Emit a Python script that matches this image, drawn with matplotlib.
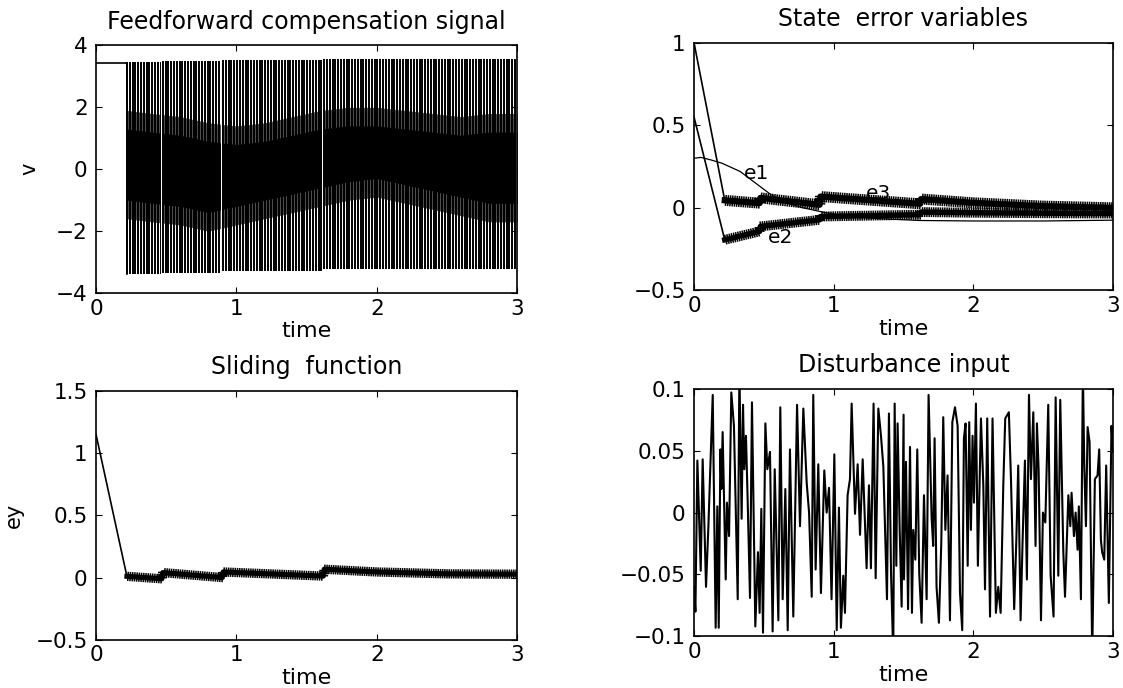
import numpy as np
import matplotlib
matplotlib.use('Agg')
from matplotlib import pyplot as plt
from matplotlib import patheffects as pe

plt.rcParams['font.family'] = ['DejaVu Sans']
plt.rcParams['font.size'] = 15

# ---- feedforward compensation signal (chattering between two levels)
ff_init_t = [0.0, 0.22]
ff_init_v = [3.42, 3.42]
ff_seg_t0 = [0.22, 0.475, 0.905, 1.625]
ff_seg_t1 = [0.47, 0.90, 1.62, 3.0]
ff_hi = [3.48, 3.50, 3.53, 3.57]
ff_lo = [-3.38, -3.36, -3.30, -3.22]
ff_dt = 0.02
ff_band_t = [0.22, 0.4, 0.6, 0.8, 1.0, 1.2, 1.4, 1.6, 1.8, 2.0, 2.2, 2.4, 2.6, 2.8, 3.0]
ff_band_top = [1.3, 1.2, 1.1, 0.9, 0.8, 0.9, 1.1, 1.3, 1.4, 1.4, 1.3, 1.2, 1.1, 1.2, 1.2]
ff_band_bot = [-1.0, -1.1, -1.2, -1.4, -1.2, -1.0, -0.8, -0.6, -0.4, -0.3, -0.5, -0.7, -0.9, -1.1, -1.1]
ff_halo_top = [1.9, 1.8, 1.7, 1.5, 1.4, 1.5, 1.7, 1.9, 2.0, 2.0, 1.9, 1.8, 1.7, 1.8, 1.8]
ff_halo_bot = [-1.6, -1.7, -1.8, -2.0, -1.8, -1.6, -1.4, -1.2, -1.0, -0.9, -1.1, -1.3, -1.5, -1.7, -1.7]

# ---- state error variables
e1_t = [0, 0.05, 0.12, 0.2, 0.33, 0.44, 0.55, 0.66, 0.78, 0.9, 1.02, 1.14, 1.38, 1.62, 2.0, 2.5, 3.0]
e1_v = [0.30, 0.305, 0.29, 0.27, 0.22, 0.15, 0.08, 0.03, 0.0, -0.022, -0.042, -0.057, -0.068, -0.077, -0.08, -0.08, -0.075]
e3_t = [0, 0.22, 0.47, 0.475, 0.90, 0.905, 1.62, 1.625, 2.0, 2.5, 3.0]
e3_v = [1.0, 0.045, 0.028, 0.06, 0.018, 0.068, 0.024, 0.053, 0.03, 0.01, 0.0]
e2_t = [0, 0.22, 0.47, 0.475, 0.90, 0.905, 1.62, 1.625, 2.0, 2.5, 3.0]
e2_v = [0.55, -0.194, -0.143, -0.113, -0.073, -0.053, -0.042, -0.026, -0.03, -0.033, -0.035]

# ---- sliding function
s_t = [0, 0.22, 0.47, 0.475, 0.90, 0.905, 1.62, 1.625, 2.0, 2.5, 3.0]
s_v = [1.15, 0.01, -0.01, 0.04, 0.0, 0.045, 0.012, 0.067, 0.045, 0.03, 0.027]

# ---- disturbance input (peaks/valleys)
d_t = [0.0, 0.01, 0.024, 0.048, 0.062, 0.086, 0.103, 0.134, 0.155, 0.167, 0.177, 0.189, 0.196, 0.205,
       0.227, 0.236, 0.251, 0.267, 0.286, 0.313, 0.325, 0.341, 0.351, 0.36, 0.372, 0.384, 0.401,
       0.415, 0.439, 0.458, 0.47, 0.482, 0.494, 0.511, 0.525, 0.544, 0.563, 0.578, 0.604, 0.618,
       0.635, 0.654, 0.671, 0.687, 0.711, 0.738, 0.759, 0.783, 0.807, 0.824, 0.843, 0.854, 0.871,
       0.89, 0.909, 0.933, 0.95, 0.967, 0.985, 1.005, 1.022, 1.038, 1.052, 1.069, 1.081, 1.1, 1.117,
       1.129, 1.153, 1.172, 1.189, 1.208, 1.236, 1.253, 1.267, 1.286, 1.301, 1.32, 1.339, 1.356,
       1.368, 1.382, 1.396, 1.411, 1.427, 1.437, 1.449, 1.458, 1.473, 1.487, 1.501, 1.504, 1.518,
       1.533, 1.547, 1.561, 1.57, 1.585, 1.599, 1.613, 1.63, 1.647, 1.666, 1.68, 1.702, 1.713, 1.723,
       1.737, 1.754, 1.771, 1.785, 1.8, 1.816, 1.833, 1.85, 1.869, 1.888, 1.905, 1.921, 1.933, 1.945,
       1.96, 1.971, 1.983, 1.995, 2.005, 2.019, 2.033, 2.055, 2.072, 2.084, 2.1, 2.12, 2.138, 2.162,
       2.179, 2.196, 2.215, 2.229, 2.255, 2.27, 2.293, 2.308, 2.322, 2.339, 2.353, 2.37, 2.384, 2.399,
       2.413, 2.43, 2.446, 2.456, 2.468, 2.485, 2.499, 2.516, 2.537, 2.554, 2.575, 2.59, 2.609, 2.623,
       2.645, 2.657, 2.681, 2.695, 2.704, 2.721, 2.733, 2.747, 2.756, 2.771, 2.785, 2.795, 2.807,
       2.819, 2.833, 2.852, 2.871, 2.89, 2.902, 2.914, 2.923, 2.938, 2.952, 2.971, 2.99, 3.0]
d_v = [-0.06, -0.08, 0.042, -0.047, 0.043, -0.06, -0.011, 0.095, -0.093, 0.005, -0.093, 0.051, 0.019, 0.065,
       -0.054, 0.008, -0.019, 0.097, 0.07, -0.07, 0.115, -0.005, 0.087, 0.035, 0.062, 0.011, -0.069,
       0.089, -0.092, -0.032, -0.081, 0.003, -0.097, 0.072, 0.035, 0.049, -0.096, 0.035, -0.087, 0.085,
       -0.07, 0.019, -0.095, 0.051, -0.084, 0.087, -0.011, 0.084, 0.024, 0.0, -0.068, 0.095, -0.046,
       0.039, -0.065, 0.034, 0.0, 0.02, -0.07, 0.047, -0.095, 0.004, -0.093, -0.051, -0.081, 0.014, 0.027,
       0.088, -0.001, 0.039, -0.018, 0.043, -0.045, 0.022, -0.045, 0.088, -0.053, 0.084, 0.062, 0.037,
       -0.011, -0.07, 0.08, -0.049, -0.115, 0.088, -0.043, 0.072, -0.014, -0.076, 0.079, -0.054, 0.041,
       -0.078, 0.053, -0.081, -0.014, -0.038, 0.051, -0.049, -0.089, 0.014, -0.07, 0.095, -0.005, -0.027, 0.06,
       -0.06, -0.089, -0.024, 0.077, -0.014, 0.03, -0.087, 0.073, 0.085, 0.07, -0.065, -0.095, 0.06, 0.072,
       -0.043, 0.073, -0.014, 0.062, 0.008, 0.088, -0.043, 0.076, 0.022, -0.062, 0.076, -0.084, 0.076, -0.081,
       -0.06, -0.081, 0.022, 0.076, 0.081, 0.027, -0.078, -0.024, 0.038, -0.087, -0.024, 0.042, -0.054, 0.095,
       0.027, 0.081, -0.027, 0.072, 0.035, -0.087, 0.0, -0.008, 0.087, -0.051, -0.084, 0.093, -0.051, 0.091,
       -0.032, -0.068, 0.014, -0.011, 0.016, -0.019, 0.0, -0.03, 0.005, -0.07, 0.115, 0.038, -0.011,
       0.069, 0.057, -0.115, 0.027, 0.03, 0.051, -0.022, -0.032, -0.038, 0.038, -0.073, 0.07, 0.049]


def style(ax, title, ylabel=None, ylabelpad=4):
    ax.set_title(title, pad=12, fontsize=17)
    ax.set_xlabel('time', labelpad=2, fontsize=16)
    if ylabel:
        ax.set_ylabel(ylabel, labelpad=ylabelpad, fontsize=15)
    ax.set_xlim(0, 3)
    ax.set_xticks([0, 1, 2, 3])
    ax.tick_params(direction='in', top=True, right=True, length=4, width=0.8,
                   pad=6, labelsize=15.5)
    ax.tick_params(axis='x', pad=4)
    for sp in ax.spines.values():
        sp.set_linewidth(1.2)


def comb(half):
    sp = 1.6
    return [pe.Stroke(linewidth=half * 1.3, foreground='k'),
            pe.TickedStroke(spacing=sp, angle=90, length=half / sp, linewidth=1.1),
            pe.TickedStroke(spacing=sp, angle=-90, length=half / sp, linewidth=1.1),
            pe.Normal()]


fig = plt.figure(figsize=(11.23, 6.88), dpi=100)

# top left
ax1 = fig.add_axes([0.0855, 0.574, 0.375, 0.360])
ax1.plot(ff_init_t, ff_init_v, 'k', lw=1.2)
ax1.plot([ff_init_t[-1], ff_init_t[-1]], [ff_init_v[-1], ff_lo[0]], 'k', lw=1.2)
ax1.fill_between(ff_band_t, ff_halo_bot, ff_halo_top, color='0.3', lw=0)
ax1.fill_between(ff_band_t, ff_band_bot, ff_band_top, color='k', lw=0)
for t0, t1, hi, lo in zip(ff_seg_t0, ff_seg_t1, ff_hi, ff_lo):
    ts = np.arange(t0, t1, ff_dt)
    ax1.vlines(ts, lo, hi, colors='k', lw=1.4)
    ax1.vlines([t1], lo, hi, colors='w', lw=1.4)
ax1.set_ylim(-4, 4)
ax1.set_yticks([-4, -2, 0, 2, 4])
style(ax1, 'Feedforward compensation signal', 'v', 12)

# top right
ax2 = fig.add_axes([0.618, 0.578, 0.373, 0.360])
ax2.plot(e1_t, e1_v, 'k', lw=0.9)
ax2.plot(e3_t[:2], e3_v[:2], 'k', lw=1.2)
ax2.plot(e3_t[1:], e3_v[1:], 'k', lw=2, path_effects=comb(3.4))
ax2.plot(e2_t[:2], e2_v[:2], 'k', lw=1.2)
ax2.plot(e2_t[1:], e2_v[1:], 'k', lw=2, path_effects=comb(3.0))
ax2.text(0.36, 0.21, 'e1', va='center', fontsize=14.5)
ax2.text(0.53, -0.18, 'e2', va='center', fontsize=14.5)
ax2.text(1.23, 0.085, 'e3', va='center', fontsize=14.5)
ax2.set_ylim(-0.5, 1)
ax2.set_yticks([-0.5, 0, 0.5, 1])
ax2.set_yticklabels(['\u22120.5', '0', '0.5', '1'])
style(ax2, 'State  error variables')

# bottom left
ax3 = fig.add_axes([0.0855, 0.070, 0.375, 0.362])
ax3.plot(s_t[:2], s_v[:2], 'k', lw=1.2)
ax3.plot(s_t[1:], s_v[1:], 'k', lw=2, path_effects=comb(2.8))
ax3.set_ylim(-0.5, 1.5)
ax3.set_yticks([-0.5, 0, 0.5, 1, 1.5])
ax3.set_yticklabels(['\u22120.5', '0', '0.5', '1', '1.5'])
style(ax3, 'Sliding  function', 'ey', 8)

# bottom right
ax4 = fig.add_axes([0.618, 0.075, 0.373, 0.360])
ax4.plot(d_t, d_v, 'k', lw=1.5)
ax4.set_ylim(-0.1, 0.1)
ax4.set_yticks([-0.1, -0.05, 0, 0.05, 0.1])
ax4.set_yticklabels(['\u22120.1', '\u22120.05', '0', '0.05', '0.1'])
style(ax4, 'Disturbance input')

fig.savefig('out.png', dpi=100)
